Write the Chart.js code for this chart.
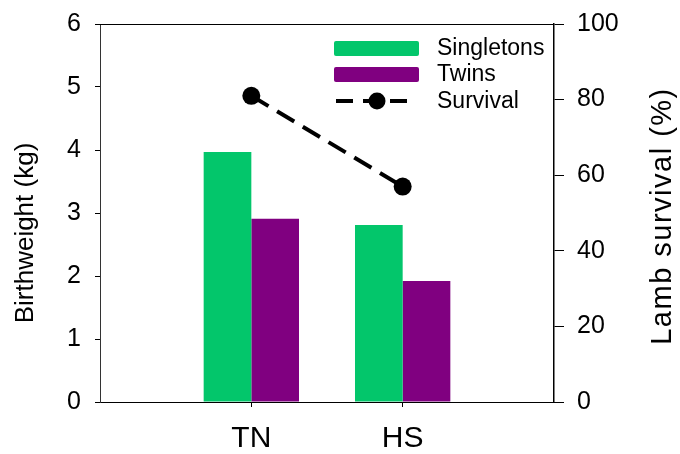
<!DOCTYPE html>
<html>
<head>
<meta charset="utf-8">
<script src="https://cdn.jsdelivr.net/npm/chart.js@4"></script>
<style>
  html, body { margin: 0; padding: 0; background: #fff; }
  canvas { display: block; }
</style>
</head>
<body>
<canvas id="chart" width="680" height="454"></canvas>
<script>
// values
const categories = ["TN", "HS"];
const singletons = [3.97, 2.81];   // kg
const twins = [2.91, 1.92];        // kg
const survival = [81, 57];         // %
const weightTicks = [0, 1, 2, 3, 4, 5, 6];
const survivalTicks = [0, 20, 40, 60, 80, 100];

const FONT = 'Arial, "Liberation Sans", sans-serif';
const GREEN = "#03c66b";
const PURPLE = "#800080";

// empty slots at both ends so TN/HS sit at 1/3 and 2/3 of the axis
const pad = arr => [null, ...arr, null];
const labels = ["", ...categories, ""];

// legend, axis titles and top frame line
const overlay = {
    id: "overlay",
    afterDraw(chart) {
        const ctx = chart.ctx;
        const a = chart.chartArea;
        ctx.save();

        ctx.strokeStyle = "#000";
        ctx.lineWidth = 1;
        ctx.beginPath();
        ctx.moveTo(a.left, a.top + 0.5);
        ctx.lineTo(a.right, a.top + 0.5);
        ctx.stroke();

        // axis titles
        ctx.fillStyle = "#000";
        ctx.textAlign = "center";
        ctx.textBaseline = "middle";
        ctx.font = "26px " + FONT;
        ctx.save();
        ctx.translate(26, 233);
        ctx.rotate(-Math.PI / 2);
        ctx.fillText("Birthweight (kg)", 0, 0);
        ctx.restore();
        ctx.save();
        ctx.font = "29px " + FONT;
        ctx.translate(663, 216);
        ctx.rotate(-Math.PI / 2);
        ctx.letterSpacing = "1.5px";
        ctx.fillText("Lamb survival (%)", 0, 0);
        ctx.restore();

        // legend
        ctx.fillStyle = GREEN;
        ctx.beginPath();
        ctx.roundRect(334, 41, 85, 15, 2);
        ctx.fill();
        ctx.fillStyle = PURPLE;
        ctx.beginPath();
        ctx.roundRect(334, 67, 85, 15, 2);
        ctx.fill();

        ctx.strokeStyle = "#000";
        ctx.lineWidth = 4;
        ctx.setLineDash([17, 10]);
        ctx.beginPath();
        ctx.moveTo(336, 101);
        ctx.lineTo(407, 101);
        ctx.stroke();
        ctx.setLineDash([]);
        ctx.fillStyle = "#000";
        ctx.beginPath();
        ctx.arc(377, 101, 8.5, 0, Math.PI * 2);
        ctx.fill();

        ctx.font = "23px " + FONT;
        ctx.textAlign = "left";
        ctx.fillText("Singletons", 437, 49);
        ctx.fillText("Twins", 437, 75);
        ctx.fillText("Survival", 437, 102);
        ctx.restore();
    }
};

// fixed axis box sizes so the plot area lands where the original has it
const fitY = w => s => {
    s.width = w;
    s.paddingTop = 0;
    s.paddingBottom = 0;
};

new Chart(document.getElementById("chart"), {
    data: {
        labels: labels,
        datasets: [{
            type: "line",
            label: "Survival",
            data: pad(survival),
            yAxisID: "y1",
            borderColor: "#000",
            borderWidth: 4,
            borderDash: [20, 10],
            pointRadius: 9,
            pointBackgroundColor: "#000",
            pointBorderWidth: 0,
            order: 0
        }, {
            type: "bar",
            label: "Singletons",
            data: pad(singletons),
            yAxisID: "y",
            backgroundColor: GREEN,
            categoryPercentage: 0.63,
            barPercentage: 1,
            order: 1
        }, {
            type: "bar",
            label: "Twins",
            data: pad(twins),
            yAxisID: "y",
            backgroundColor: PURPLE,
            categoryPercentage: 0.63,
            barPercentage: 1,
            order: 1
        }]
    },
    options: {
        responsive: false,
        animation: false,
        devicePixelRatio: 1,
        layout: { padding: { top: 24, left: 0, right: 0, bottom: 0 } },
        plugins: {
            legend: { display: false },
            tooltip: { enabled: false }
        },
        scales: {
            x: {
                offset: false,
                grid: {
                    display: true,
                    offset: false,
                    drawOnChartArea: false,
                    drawTicks: true,
                    tickLength: 5,
                    tickColor: c => (c.index === 1 || c.index === 2) ? "#000" : "rgba(0,0,0,0)"
                },
                border: { display: true, color: "#000", width: 1 },
                ticks: {
                    color: "#000",
                    font: { family: FONT, size: 30 },
                    padding: 14,
                    autoSkip: false,
                    maxRotation: 0
                },
                afterFit: s => { s.height = 52; }
            },
            y: {
                position: "left",
                min: 0,
                max: 6,
                afterBuildTicks: s => { s.ticks = weightTicks.map(v => ({ value: v })); },
                grid: {
                    display: true,
                    drawOnChartArea: false,
                    drawTicks: true,
                    tickLength: 5,
                    tickColor: "#000"
                },
                border: { display: true, color: "#333", width: 1 },
                ticks: {
                    color: "#000",
                    font: { family: FONT, size: 25 },
                    padding: 14
                },
                afterFit: fitY(100)
            },
            y1: {
                position: "right",
                min: 0,
                max: 100,
                afterBuildTicks: s => { s.ticks = survivalTicks.map(v => ({ value: v })); },
                grid: {
                    display: true,
                    drawOnChartArea: false,
                    drawTicks: true,
                    tickLength: 10,
                    tickColor: "#000"
                },
                border: { display: true, color: "#000", width: 1.5 },
                ticks: {
                    color: "#000",
                    font: { family: FONT, size: 25 },
                    padding: 13
                },
                afterFit: fitY(126)
            }
        }
    },
    plugins: [overlay]
});
</script>
</body>
</html>
